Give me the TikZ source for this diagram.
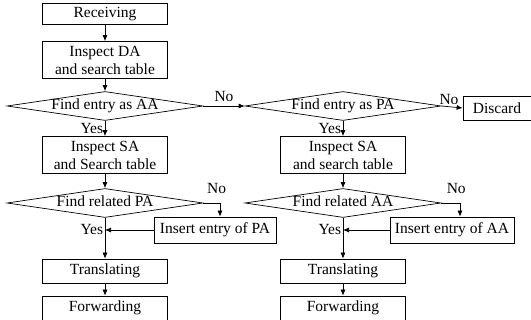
\documentclass[tikz,border=0pt]{standalone}
\usepackage{fontspec}
\setmainfont{Liberation Serif}
\usetikzlibrary{shapes.geometric,arrows.meta}
\begin{document}
\begin{tikzpicture}[x=1pt, y=-1pt,
            every node/.style={font=\fontsize{15.5}{18}\selectfont},
            box/.style={draw, line width=0.7pt, minimum width=125pt, minimum height=24pt, align=center, inner sep=1pt},
            decision/.style={draw, diamond, aspect=7, line width=0.7pt, inner sep=0pt, minimum width=196pt, minimum height=29pt, text height=10pt, text depth=2pt},
            arrow/.style={-{Latex[length=6pt,width=5pt]}, line width=0.7pt},
            lbl/.style={inner sep=1.5pt}
        ]
            \useasboundingbox (0,0) rectangle (531,320);

            % Left column - address lookup
            \node[box, minimum height=21pt] (recv) at (105,14) {Receiving};
            \node[box, minimum height=37pt] (inspda) at (105,60) {Inspect DA\\and search table};
            \node[decision] (findaa) at (105,106) {Find entry as AA};
            \node[box, minimum height=37pt] (inspsa) at (105,155) {Inspect SA\\and Search table};
            \node[decision] (relpa) at (105,203) {Find related PA};
            \node[box, minimum width=122pt, minimum height=26pt] (inspa) at (215,230) {Insert entry of PA};
            \node[box] (trans) at (105,271) {Translating};
            \node[box] (fwd) at (105,308) {Forwarding};

            % Right column - second lookup
            \node[decision] (findpa) at (343,106) {Find entry as PA};
            \node[box, minimum width=68pt] (discard) at (497,108) {Discard};
            \node[box, minimum height=37pt] (inspsa2) at (343,155) {Inspect SA\\and search table};
            \node[decision] (relaa) at (343,203) {Find related AA};
            \node[box, minimum width=124pt, minimum height=26pt] (insaa) at (452,230) {Insert entry of AA};
            \node[box] (trans2) at (343,271) {Translating};
            \node[box] (fwd2) at (343,308) {Forwarding};

            % Left flow
            \draw[arrow] (recv.south) -- (inspda.north);
            \draw[arrow] (inspda.south) -- (findaa.north);
            \draw[arrow] (findaa.south) -- node[lbl, left] {Yes} (inspsa.north);
            \draw[arrow] (findaa.east) -- node[lbl, above, yshift=2pt] {No} (findpa.west);
            \draw[arrow] (inspsa.south) -- (relpa.north);
            \draw[arrow] (relpa.east) -| node[lbl, above, pos=0.4, yshift=7pt] {No} ([xshift=5pt]inspa.north);
            \draw[arrow] (inspa.west) -- (inspa.west -| relpa.south) node[lbl, left] {Yes};
            \draw[arrow] (relpa.south) -- (trans.north);
            \draw[arrow] (trans.south) -- (fwd.north);

            % Right flow
            \draw[arrow] (findpa.east) -- node[lbl, above, xshift=-3pt] {No} (discard.west);
            \draw[arrow] (findpa.south) -- node[lbl, left] {Yes} (inspsa2.north);
            \draw[arrow] (inspsa2.south) -- (relaa.north);
            \draw[arrow] (relaa.east) -| node[lbl, above, pos=0.4, yshift=7pt] {No} ([xshift=8pt]insaa.north);
            \draw[arrow] (insaa.west) -- (insaa.west -| relaa.south) node[lbl, left] {Yes};
            \draw[arrow] (relaa.south) -- (trans2.north);
            \draw[arrow] (trans2.south) -- (fwd2.north);
        \end{tikzpicture}
\end{document}
